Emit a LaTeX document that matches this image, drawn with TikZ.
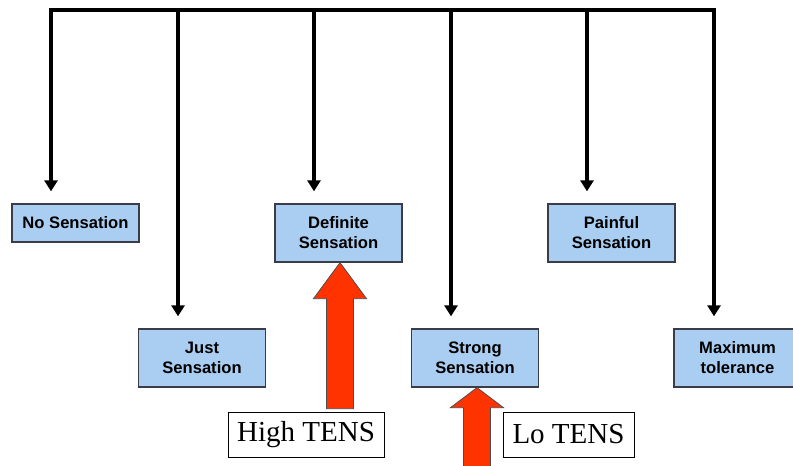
\documentclass[tikz,border=0pt]{standalone}
\usepackage{fontspec}
\setmainfont{Liberation Serif}
\setsansfont{Liberation Sans}
\usetikzlibrary{arrows.meta}
\definecolor{boxblue}{RGB}{170,206,242}
\definecolor{boxedge}{RGB}{60,60,70}
\definecolor{tensred}{RGB}{255,51,0}
\tikzset{
  sensebox/.style={draw=boxedge, line width=1.3pt, fill=boxblue, minimum width=127pt,
    inner sep=0pt, align=center, font=\sffamily\bfseries\fontsize{16.6}{20}\selectfont},
  onebox/.style={sensebox, minimum height=38pt},
  twobox/.style={sensebox, minimum height=58pt},
  tensbox/.style={draw=black, line width=1pt, fill=white, minimum height=45pt, inner sep=0pt,
    font=\rmfamily\fontsize{29}{32}\selectfont},
  bar/.style={line width=3.6pt, line cap=rect},
  conn/.style={line width=3.6pt, -{Triangle[width=13pt,length=11pt]}, shorten >=12pt},
  redarrow/.style={draw=black!70, line width=0.8pt, fill=tensred, line join=miter}
}
\begin{document}
\begin{tikzpicture}[x=1pt,y=-1pt]
\useasboundingbox (0,0) rectangle (793,466);
\fill[white] (0,0) rectangle (793,466);

% boxes
\node[onebox] (none) at (75.5,223) {No Sensation};
\node[twobox] (def) at (338.5,233) {Definite\\Sensation};
\node[twobox] (pain) at (611.5,233) {Painful\\Sensation};
\node[twobox] (just) at (202,358) {Just\\Sensation};
\node[twobox] (strong) at (475,358) {Strong\\Sensation};
\node[twobox] (maxt) at (737.5,358) {Maximum\\tolerance};

% top bar junctions
\coordinate (t1) at (51,10);
\coordinate (t2) at (178,10);
\coordinate (t3) at (314,10);
\coordinate (t4) at (451,10);
\coordinate (t5) at (587,10);
\coordinate (t6) at (714,10);

\draw[bar] (t1) -- (t6);
\draw[conn] (t1) -- (t1 |- none.north);
\draw[conn] (t2) -- (t2 |- just.north);
\draw[conn] (t3) -- (t3 |- def.north);
\draw[conn] (t4) -- (t4 |- strong.north);
\draw[conn] (t5) -- (t5 |- pain.north);
\draw[conn] (t6) -- (t6 |- maxt.north);

% red block arrows
\draw[redarrow] ([xshift=1.5pt]def.south) -- ++(26.5,36) -- ++(-13,0) -- ++(0,110) -- ++(-27,0)
  -- ++(0,-110) -- ++(-13,0) -- cycle;
\draw[redarrow] ([xshift=2pt]strong.south) -- ++(26.5,20) -- ++(-13,0) -- ++(0,70) -- ++(-27,0)
  -- ++(0,-70) -- ++(-13,0) -- cycle;

% TENS labels
\node[tensbox, minimum width=156pt] (high) at (306,434.5) {High TENS};
\node[tensbox, minimum width=131pt] (lo) at (568.5,434.5) {Lo TENS};
\end{tikzpicture}
\end{document}
